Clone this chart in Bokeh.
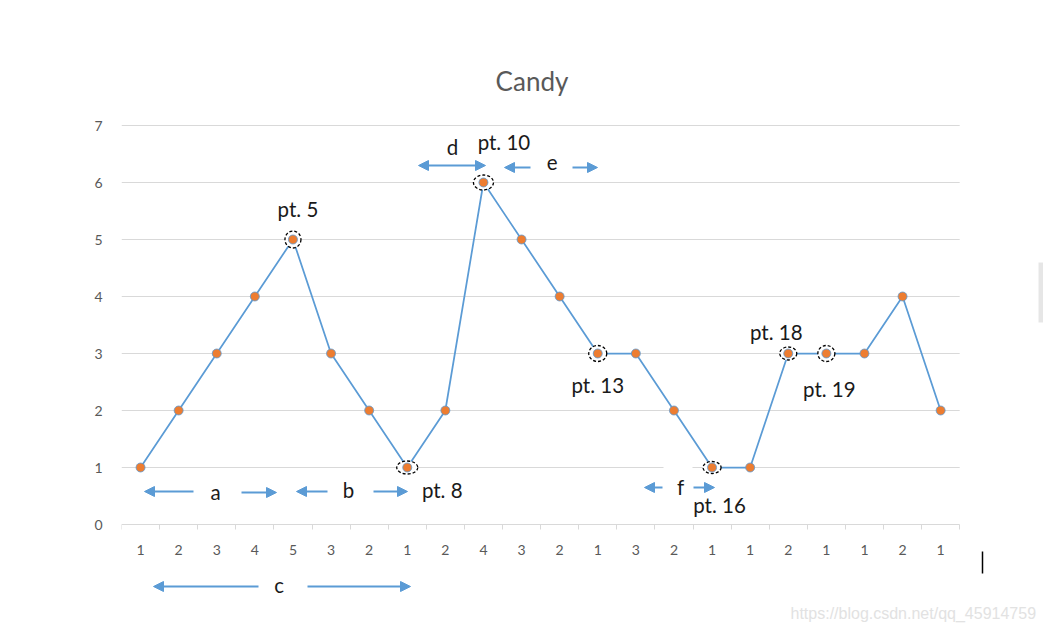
from bokeh.plotting import figure
from bokeh.models import Range1d, FixedTicker, Arrow, NormalHead
from bokeh.embed import file_html
from bokeh.resources import INLINE
from bokeh.core.properties import value

# ---------------- data ----------------
point_index = list(range(1, 23))
candies = [1, 2, 3, 4, 5, 3, 2, 1, 2, 6, 5, 4, 3, 3, 2, 1, 1, 3, 3, 3, 4, 2]
ratings = ["1", "2", "3", "4", "5", "3", "2", "1", "2", "4", "3",
           "2", "1", "3", "2", "1", "1", "2", "1", "1", "2", "1"]
y_ticks = [0, 1, 2, 3, 4, 5, 6, 7]
marked_points = [5, 8, 10, 13, 16, 18, 19]
marked_labels = ["pt. 5", "pt. 8", "pt. 10", "pt. 13", "pt. 16", "pt. 18", "pt. 19"]
segment_letters = ["a", "b", "c", "d", "e", "f"]

# ---------------- layout helpers (pixel -> data) ----------------
SLOT = 38.1
X0PX = 121
ZEROPX = 524
UNIT = 57.0
W, H = 1043, 628


def X(px):
    return 0.5 + (px - X0PX) / SLOT


def Y(py):
    return (ZEROPX - py) / UNIT


BLUE = "#5b9bd5"
ORANGE = "#ed7d31"
GRID = "#d9d9d9"
GRAY = "#595959"
FONT = "Lato"
TXT = "#1a1a1a"

p = figure(width=W, height=H, output_backend="svg", toolbar_location=None,
           x_range=Range1d(0.5, X(W)), y_range=Range1d(Y(H), Y(0)),
           min_border_left=X0PX, min_border_right=0, min_border_top=0,
           min_border_bottom=0, outline_line_color=None,
           background_fill_color="white", border_fill_color="white")
p.grid.visible = False

# x axis at y = 0
xa = p.xaxis[0]
xa.fixed_location = 0
xa.bounds = (0.5, 22.5)
xa.ticker = FixedTicker(ticks=point_index,
                        minor_ticks=[i - 0.5 for i in range(1, 24)])
xa.major_label_overrides = {i: r for i, r in zip(point_index, ratings)}
xa.axis_line_color = GRID
xa.major_tick_line_color = None
xa.major_tick_out = 0
xa.major_tick_in = 0
xa.minor_tick_line_color = GRID
xa.minor_tick_out = 5
xa.minor_tick_in = 0
xa.major_label_standoff = 15
xa.major_label_text_font = FONT
xa.major_label_text_font_size = "14px"
xa.major_label_text_color = GRAY

ya = p.yaxis[0]
ya.ticker = FixedTicker(ticks=y_ticks)
ya.axis_line_color = None
ya.major_tick_line_color = None
ya.minor_tick_line_color = None
ya.major_tick_out = 0
ya.major_tick_in = 0
ya.major_label_standoff = 19
ya.major_label_text_font = FONT
ya.major_label_text_font_size = "14px"
ya.major_label_text_color = GRAY

# horizontal gridlines
gy = [t for t in y_ticks if t > 0]
p.segment(x0=[0.5] * len(gy), x1=[22.5] * len(gy), y0=gy, y1=gy,
          line_color=GRID, line_width=1)
# white box behind the "f" annotation
p.quad(left=[X(663)], right=[X(692)], top=[Y(462)], bottom=[Y(472)],
       fill_color="white", line_color=None)

# title
p.text(x=[X(531.5)], y=[Y(80.5)], text=["Candy"], text_font=value(FONT),
       text_font_size="26px", text_color=GRAY, text_align="center",
       text_baseline="alphabetic")

# series
p.line(point_index, candies, line_color=BLUE, line_width=1.75)

mx = marked_points
my = [candies[i - 1] for i in marked_points]
ell_w = [16, 21, 20, 18, 18, 17, 17]
ell_h = [17, 13, 15, 16, 12, 13, 16]
p.ellipse(x=mx, y=my, width=ell_w, height=ell_h, width_units="screen",
          height_units="screen", fill_color="white", line_color="black",
          line_dash="3 2", line_width=1.3)

p.scatter(point_index, candies, size=9, marker="circle", fill_color=ORANGE,
          line_color=BLUE, line_width=0.8)

# point labels, anchored to their points
lab_dx = [5, 35, 20.5, 0, 7.5, -12, 3]
lab_dy = [-31, 22.5, -40.5, 31.5, 37.5, -21.5, 35.5]
p.text(x=mx, y=my, text=marked_labels, x_offset=lab_dx, y_offset=lab_dy,
       text_font=value(FONT), text_font_size="20.5px", text_color=TXT,
       text_align="center", text_baseline="alphabetic")

# segment letters
let_px = [215, 348, 278.7, 452, 551.7, 680]
let_py = [491.5, 489.5, 584.5, 146.5, 161.5, 486.5]
p.text(x=[X(v) for v in let_px], y=[Y(v) for v in let_py], text=segment_letters,
       text_font=value(FONT), text_font_size="20.5px", text_color=TXT,
       text_align="center", text_baseline="alphabetic")

# arrows (start px, end px, y px, double headed)
arrows = [
    (193, 144, 491, False), (241, 276, 492, False),
    (327, 296, 491, False), (373, 407, 491, False),
    (258, 153, 586, False), (307, 410, 586, False),
    (418, 485, 165, True),
    (530, 504, 167, False), (572, 597, 167, False),
    (662, 644, 487, False), (693, 714, 487, False),
]
for xs, xe, yy, dbl in arrows:
    p.add_layout(Arrow(
        x_start=X(xs), y_start=Y(yy), x_end=X(xe), y_end=Y(yy),
        line_color=BLUE, line_width=2,
        end=NormalHead(size=10, fill_color=BLUE, line_color=BLUE, line_width=1),
        start=NormalHead(size=10, fill_color=BLUE, line_color=BLUE, line_width=1) if dbl else None,
    ))

# watermark & screen artifacts
p.text(x=[X(790)], y=[Y(613)], text=["https://blog.csdn.net/qq_45914759"],
       text_font=value("Liberation Sans"), text_font_size="16px",
       text_color="#e2e2e2", text_align="left", text_baseline="alphabetic")
p.quad(left=[X(1038)], right=[X(1050)], top=[Y(262)], bottom=[Y(322)],
       fill_color="#e6e6e6", line_color=None)
p.segment(x0=[X(982)], x1=[X(982)], y0=[Y(551)], y1=[Y(573)],
          line_color="black", line_width=1.5)

open("out.html", "w").write(file_html(p, INLINE))
